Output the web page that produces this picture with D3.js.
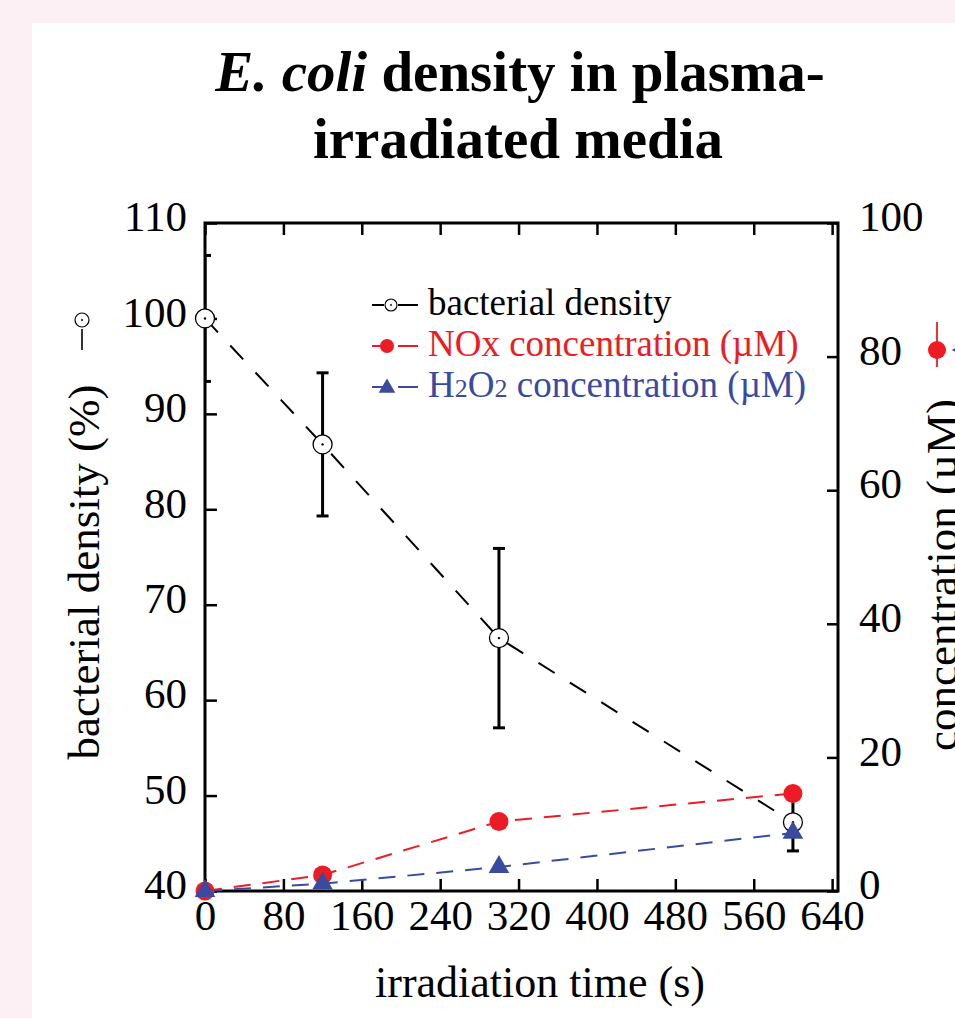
<!DOCTYPE html>
<html>
<head>
<meta charset="utf-8">
<script src="https://cdn.jsdelivr.net/npm/d3@7"></script>
<style>
  html, body { margin: 0; padding: 0; background: #fdf0f4; }
  #chart { position: absolute; left: 32px; top: 23px; right: 0; bottom: 0; background: #fff; }
  svg { position: absolute; left: 0; top: 0; }
  text { font-family: "Liberation Serif", "Times New Roman", serif; }
</style>
</head>
<body>
<div id="chart"></div>
<svg id="plot" width="955" height="1018"></svg>
<script>
// irradiation time (s)
const timeS = [0, 120, 300, 600];
// bacterial density (%), left axis, with error bars
const density = [100, 86.8, 66.5, 47.2];
const densityErr = [6.6, 7.5, 9.4, 3.0];
// concentrations (uM), right axis
const noxConc = [0, 2.4, 10.4, 14.6];
const h2o2Conc = [0, 1.1, 3.6, 8.7];

const xTicks = [0, 80, 160, 240, 320, 400, 480, 560, 640];
const leftTicks = [40, 50, 60, 70, 80, 90, 100, 110];
const rightTicks = [0, 20, 40, 60, 80, 100];

const legendLabels = ["bacterial density", "NOx concentration (\u00b5M)", "H2O2 concentration (\u00b5M)"];

const RED = "#ed1c24";
const BLUE = "#3a4b9f";

const plotLeft = 205, plotRight = 838, plotTop = 223, plotBottom = 891;

const svg = d3.select("#plot");

const x = d3.scaleLinear().domain([0, 646]).range([plotLeft, plotRight]);
const yL = d3.scaleLinear().domain([40, 110]).range([plotBottom, plotTop]);
const yR = d3.scaleLinear().domain([0, 100]).range([plotBottom, plotTop]);

// Title
const title = svg.append("text")
  .attr("x", 520)
  .attr("y", 91)
  .attr("text-anchor", "middle")
  .attr("font-size", 57)
  .attr("font-weight", "bold");
title.append("tspan").attr("font-style", "italic").text("E. coli");
title.append("tspan").text(" density in plasma-");
svg.append("text")
  .attr("x", 518)
  .attr("y", 158)
  .attr("text-anchor", "middle")
  .attr("font-size", 57)
  .attr("font-weight", "bold")
  .text("irradiated media");

// Axes (ticks point inward)
function styleAxis(g) {
  g.select(".domain").remove();
  g.selectAll(".tick line").attr("stroke", "#000").attr("stroke-width", 2.5);
  g.selectAll(".tick text")
    .attr("fill", "#000")
    .attr("font-size", 43)
    .attr("font-family", "Liberation Serif, Times New Roman, serif");
}

svg.append("g")
  .attr("transform", `translate(0,${plotBottom})`)
  .call(d3.axisBottom(x).tickValues(xTicks).tickSize(-12).tickPadding(8))
  .call(styleAxis);

svg.append("g")
  .attr("transform", `translate(0,${plotTop})`)
  .call(d3.axisTop(x).tickValues(xTicks).tickSize(-12).tickFormat(""))
  .call(styleAxis);

svg.append("g")
  .attr("transform", `translate(${plotLeft},0)`)
  .call(d3.axisLeft(yL).tickValues(leftTicks).tickSize(-12).tickPadding(18))
  .call(styleAxis)
  .call(g => g.selectAll(".tick text").attr("dy", "0.18em"));

svg.append("g")
  .attr("transform", `translate(${plotRight},0)`)
  .call(d3.axisRight(yR).tickValues(rightTicks).tickSize(-11).tickPadding(21))
  .call(styleAxis)
  .call(g => g.selectAll(".tick text").attr("dy", "0.18em"));

// Frame
svg.append("rect")
  .attr("x", plotLeft)
  .attr("y", plotTop)
  .attr("width", plotRight - plotLeft)
  .attr("height", plotBottom - plotTop)
  .attr("fill", "none")
  .attr("stroke", "#000")
  .attr("stroke-width", 3);

// Axis labels
svg.append("text")
  .attr("x", 540)
  .attr("y", 997)
  .attr("text-anchor", "middle")
  .attr("font-size", 44)
  .text("irradiation time (s)");

svg.append("text")
  .attr("transform", "translate(99,572) rotate(-90)")
  .attr("text-anchor", "middle")
  .attr("font-size", 45)
  .text("bacterial density (%)");

// right label runs off the edge in the original figure as well
svg.append("text")
  .attr("transform", "translate(957,575) rotate(-90)")
  .attr("text-anchor", "middle")
  .attr("font-size", 45)
  .text("concentration (\u00b5M)");

// Symbols next to axis labels
svg.append("line")
  .attr("x1", 82).attr("x2", 82)
  .attr("y1", 329).attr("y2", 350)
  .attr("stroke", "#000").attr("stroke-width", 1.6);
svg.append("circle")
  .attr("cx", 82).attr("cy", 320).attr("r", 7)
  .attr("fill", "#fff").attr("stroke", "#000").attr("stroke-width", 1.2);
svg.append("circle")
  .attr("cx", 82).attr("cy", 320).attr("r", 1)
  .attr("fill", "#000");

svg.append("line")
  .attr("x1", 937).attr("x2", 937)
  .attr("y1", 322).attr("y2", 367)
  .attr("stroke", RED).attr("stroke-width", 1.8);
svg.append("circle")
  .attr("cx", 937).attr("cy", 350).attr("r", 9)
  .attr("fill", RED);
svg.append("path")
  .attr("d", d3.symbol(d3.symbolTriangle, 110)())
  .attr("transform", "translate(961,350) rotate(-90)")
  .attr("fill", BLUE);

// Dashed lines
const lineL = d3.line().x((d, i) => x(timeS[i])).y(d => yL(d));
const lineR = d3.line().x((d, i) => x(timeS[i])).y(d => yR(d));

svg.append("path")
  .datum(density)
  .attr("fill", "none")
  .attr("stroke", "#000")
  .attr("stroke-width", 2)
  .attr("stroke-dasharray", "19,18")
  .attr("d", lineL);

svg.append("path")
  .datum(noxConc)
  .attr("fill", "none")
  .attr("stroke", RED)
  .attr("stroke-width", 2)
  .attr("stroke-dasharray", "17,12")
  .attr("d", lineR);

svg.append("path")
  .datum(h2o2Conc)
  .attr("fill", "none")
  .attr("stroke", BLUE)
  .attr("stroke-width", 2)
  .attr("stroke-dasharray", "17,12")
  .attr("d", lineR);

// Error bars (clipped to the plot frame)
svg.append("clipPath")
  .attr("id", "plotClip")
  .append("rect")
  .attr("x", plotLeft).attr("y", plotTop)
  .attr("width", plotRight - plotLeft).attr("height", plotBottom - plotTop);

const err = svg.append("g")
  .attr("clip-path", "url(#plotClip)")
  .attr("stroke", "#000")
  .attr("stroke-width", 3);

density.forEach((v, i) => {
  const cx = x(timeS[i]);
  const y1 = yL(v + densityErr[i]);
  const y2 = yL(v - densityErr[i]);
  err.append("line").attr("x1", cx).attr("x2", cx).attr("y1", y1).attr("y2", y2);
  err.append("line").attr("x1", cx - 6).attr("x2", cx + 6).attr("y1", y1).attr("y2", y1);
  err.append("line").attr("x1", cx - 6).attr("x2", cx + 6).attr("y1", y2).attr("y2", y2);
});

// Markers
svg.selectAll(".dens-pt")
  .data(density)
  .enter()
  .append("circle")
  .attr("cx", (d, i) => x(timeS[i]))
  .attr("cy", d => yL(d))
  .attr("r", 9.5)
  .attr("fill", "#fff")
  .attr("stroke", "#000")
  .attr("stroke-width", 1.3);

svg.selectAll(".dens-dot")
  .data(density)
  .enter()
  .append("circle")
  .attr("cx", (d, i) => x(timeS[i]))
  .attr("cy", d => yL(d))
  .attr("r", 1.2)
  .attr("fill", "#000");

svg.selectAll(".nox-pt")
  .data(noxConc)
  .enter()
  .append("circle")
  .attr("cx", (d, i) => x(timeS[i]))
  .attr("cy", d => yR(d))
  .attr("r", 9.5)
  .attr("fill", RED);

svg.selectAll(".h2o2-pt")
  .data(h2o2Conc)
  .enter()
  .append("path")
  .attr("d", d3.symbol(d3.symbolTriangle, 185)())
  .attr("transform", (d, i) => `translate(${x(timeS[i])},${yR(d)})`)
  .attr("fill", BLUE);

// Legend
const legendY = [305, 346, 387];
const legendColor = ["#000", RED, BLUE];
const legend = svg.append("g");

legendLabels.forEach((label, i) => {
  const cy = legendY[i];
  const c = legendColor[i];
  legend.append("line")
    .attr("x1", 372).attr("x2", 384).attr("y1", cy).attr("y2", cy)
    .attr("stroke", c).attr("stroke-width", 2);
  legend.append("line")
    .attr("x1", 398).attr("x2", 418).attr("y1", cy).attr("y2", cy)
    .attr("stroke", c).attr("stroke-width", 2);
  if (i === 0) {
    legend.append("circle").attr("cx", 391).attr("cy", cy).attr("r", 6)
      .attr("fill", "#fff").attr("stroke", "#000").attr("stroke-width", 1.1);
    legend.append("circle").attr("cx", 391).attr("cy", cy).attr("r", 0.9).attr("fill", "#000");
  } else if (i === 1) {
    legend.append("circle").attr("cx", 387).attr("cy", cy).attr("r", 7).attr("fill", RED);
  } else {
    legend.append("path")
      .attr("d", d3.symbol(d3.symbolTriangle, 120)())
      .attr("transform", `translate(387,${cy + 1})`)
      .attr("fill", BLUE);
  }
  const t = legend.append("text")
    .attr("x", 428)
    .attr("y", cy + 10)
    .attr("font-size", 37)
    .attr("fill", c);
  if (i === 2) {
    t.append("tspan").text("H");
    t.append("tspan").attr("font-size", 26).text("2");
    t.append("tspan").text("O");
    t.append("tspan").attr("font-size", 26).text("2");
    t.append("tspan").text(" concentration (\u00b5M)");
  } else {
    t.text(label);
  }
});
</script>
</body>
</html>
